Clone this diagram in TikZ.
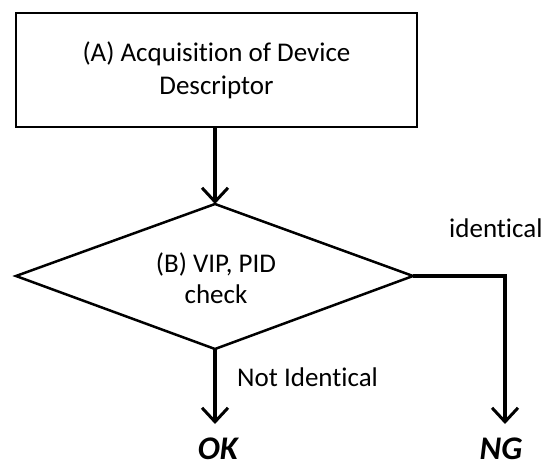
\documentclass[tikz,border=0pt]{standalone}
\usepackage{fontspec}
\setmainfont{Carlito}[Ligatures=NoCommon]
\usetikzlibrary{arrows.meta,shapes.geometric}
\begin{document}
\begin{tikzpicture}[x=1bp,y=-1bp,
  every node/.style={font=\fontsize{27bp}{33bp}\selectfont},
  box/.style={draw,line width=2.5bp,minimum width=401bp,minimum height=114bp,align=center,inner sep=0},
  flow/.style={line width=3.2bp,-{Straight Barb[length=14bp,width=26bp,line width=3bp]}},
  lbl/.style={inner sep=0},
  res/.style={inner sep=0,font=\fontsize{33bp}{36bp}\selectfont\bfseries\itshape}]
\useasboundingbox (0,0) rectangle (549,470);
\node[box] (A) at (216.5,70) {(A) Acquisition of Device\\Descriptor};
\coordinate (T) at (215,204);
\coordinate (L) at (16,276);
\coordinate (R) at (413,276);
\coordinate (Bo) at (215,349);
\draw[line width=2.5bp,line join=miter] (T) -- (R) -- (Bo) -- (L) -- cycle;
\node[lbl,align=center,font=\fontsize{27bp}{31bp}\selectfont] (B) at (216,278) {(B) VIP, PID\\check};
\draw[flow] (A.south -| T) -- (T);
\coordinate (C) at (505,276);
\node[res] (OK) at (218,449) {OK};
\node[res] (NG) at (501,449) {NG};
\coordinate (OKt) at (215,424);
\coordinate (NGt) at (505,424);
\draw[flow] (Bo) -- (OKt);
\draw[flow] (R) -- (C) -- (NGt);
\node[lbl,anchor=west] (id) at (449,228) {identical};
\node[lbl,anchor=west] (ni) at (237,377) {Not Identical};
\end{tikzpicture}
\end{document}
